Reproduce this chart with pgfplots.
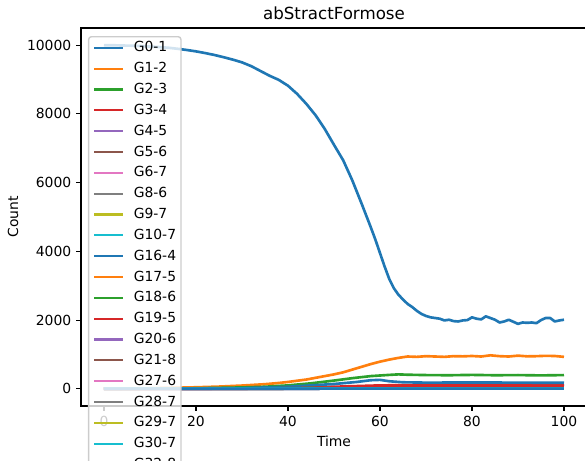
\documentclass[border=0pt]{standalone}
\usepackage{fontspec}
\setmainfont{DejaVu Sans}
\usepackage{pgfplots}
\pgfplotsset{compat=1.18}

% matplotlib tab10 cycle
\definecolor{c0}{HTML}{1F77B4}
\definecolor{c1}{HTML}{FF7F0E}
\definecolor{c2}{HTML}{2CA02C}
\definecolor{c3}{HTML}{D62728}
\definecolor{c4}{HTML}{9467BD}
\definecolor{c5}{HTML}{8C564B}
\definecolor{c6}{HTML}{E377C2}
\definecolor{c7}{HTML}{7F7F7F}
\definecolor{c8}{HTML}{BCBD22}
\definecolor{c9}{HTML}{17BECF}

\begin{document}
\begin{tikzpicture}[x=0.72pt,y=0.72pt]
\begin{axis}[
    at={(0,0)}, anchor=south west,
    scale only axis, width=364.32pt, height=272.16pt,
    xmin=-5, xmax=105, ymin=-500, ymax=10500,
    xtick={0,20,...,100}, ytick={0,2000,...,10000},
    xtick pos=left, ytick pos=left,
    tick align=outside, major tick length=3.5pt,
    every tick/.style={black, line width=0.8pt},
    axis line style={line width=0.8pt},
    scaled y ticks=false,
    /pgf/number format/1000 sep={},
    /pgf/number format/assume math mode=true,
    tick label style={font=\fontsize{10}{12}\selectfont},
    every axis title/.style={at={(0.5,1)}, anchor=base, yshift=6pt, inner sep=0pt,
        font=\fontsize{12}{14}\selectfont},
    every axis x label/.style={at={(0.5,0)}, anchor=base, yshift=-29.5pt, inner sep=0pt,
        font=\fontsize{10}{12}\selectfont},
    every axis y label/.style={at={(-0.1344,0.5)}, rotate=90, anchor=center, inner sep=0pt,
        font=\fontsize{10}{12}\selectfont},
    title={abStractFormose},
    xlabel={Time}, ylabel={Count},
    every axis plot/.append style={line width=1.9pt, line join=round},
    legend cell align=left,
    legend image code/.code={\draw[#1, line width=1.5pt, line cap=rect] (0pt,0pt) -- (20pt,0pt);},
    legend style={at={(0.0138,0.9788)}, anchor=north west,
        draw=black!20, line width=1pt, rounded corners=2pt,
        fill=white, fill opacity=0.8, text opacity=1,
        inner sep=3.5pt, row sep=6pt, column sep=7.5pt,
        font=\fontsize{10}{12}\selectfont,
        nodes={inner sep=0pt, minimum height=9pt}},
]
% G0-1
\addplot[c0] coordinates {
 (0,10000) (2,9998) (4,9990) (6,9985) (8,9975) (10,9960) (12,9945) (14,9925)
 (16,9895) (18,9860) (20,9820) (22,9770) (24,9715) (26,9650) (28,9580) (30,9500)
 (32,9390) (34,9250) (36,9110) (38,8990) (40,8820) (42,8580) (44,8290)
 (46,7960) (48,7560) (50,7100) (52,6650) (54,6060) (56,5390) (58,4700) (59,4340)
 (60,3950) (61,3560) (62,3200) (63,2930) (64,2740) (65,2600) (66,2470) (67,2380)
 (68,2270) (69,2180) (70,2120) (71,2080) (72,2060) (73,2040) (74,1990) (75,2010)
 (76,1970) (77,1960) (78,1990) (79,2000) (80,2080) (81,2040) (82,2020) (83,2110)
 (84,2060) (85,2010) (86,1930) (87,1960) (88,2010) (89,1950) (90,1890) (91,1930)
 (92,1920) (93,1930) (94,1910) (95,2000) (96,2060) (97,2060) (98,1960) (99,1990) (100,2010)};
\addlegendentry{G0-1}
% G1-2
\addplot[c1] coordinates {
 (0,0) (5,5) (10,15) (15,30) (20,45) (25,65) (30,95) (35,135) (38,170) (40,200)
 (42,235) (44,270) (46,320) (48,370) (50,420) (52,480) (54,560) (56,640) (58,720)
 (60,790) (62,850) (64,900) (66,940) (68,930) (70,950) (72,940) (74,930) (76,950)
 (78,945) (80,955) (82,940) (84,975) (86,950) (88,940) (90,965) (92,945) (94,950)
 (96,960) (98,955) (100,930)};
\addlegendentry{G1-2}
% G2-3
\addplot[c2] coordinates {
 (0,0) (10,5) (20,15) (30,40) (35,60) (40,100) (45,160) (50,240) (54,310) (58,370)
 (62,405) (64,420) (66,410) (70,400) (75,395) (80,405) (85,395) (90,400) (95,390) (100,400)};
\addlegendentry{G2-3}
% G3-4
\addplot[c3] coordinates {
 (0,0) (30,10) (40,30) (50,60) (60,100) (70,110) (80,105) (90,110) (100,105)};
\addlegendentry{G3-4}
% G4-5
\addplot[c4] coordinates {(0,0) (30,5) (50,20) (60,30) (80,30) (100,30)};
\addlegendentry{G4-5}
% G5-6
\addplot[c5] coordinates {(0,0) (40,5) (60,20) (80,20) (100,20)};
\addlegendentry{G5-6}
% G6-7
\addplot[c6] coordinates {(0,0) (40,5) (60,15) (80,15) (100,15)};
\addlegendentry{G6-7}
% G8-6
\addplot[c7] coordinates {(0,0) (50,5) (70,10) (100,10)};
\addlegendentry{G8-6}
% G9-7
\addplot[c8] coordinates {(0,0) (50,5) (70,10) (100,10)};
\addlegendentry{G9-7}
% G10-7
\addplot[c9] coordinates {(0,0) (60,5) (100,5)};
\addlegendentry{G10-7}
% G16-4
\addplot[c0] coordinates {
 (0,0) (30,20) (40,60) (50,140) (55,200) (58,250) (60,260) (62,220) (65,190)
 (70,180) (80,185) (90,180) (100,175)};
\addlegendentry{G16-4}
% G17-5
\addplot[c1] coordinates {(0,0) (40,10) (60,40) (80,40) (100,40)};
\addlegendentry{G17-5}
% G18-6
\addplot[c2] coordinates {(0,0) (20,10) (40,20) (60,30) (80,30) (100,30)};
\addlegendentry{G18-6}
% G19-5
\addplot[c3] coordinates {(0,0) (40,15) (55,50) (65,70) (80,75) (100,70)};
\addlegendentry{G19-5}
% G20-6
\addplot[c4] coordinates {(0,0) (50,5) (70,10) (100,10)};
\addlegendentry{G20-6}
% G21-8
\addplot[c5] coordinates {(0,0) (60,5) (100,5)};
\addlegendentry{G21-8}
% G27-6
\addplot[c6] coordinates {(0,0) (60,5) (100,5)};
\addlegendentry{G27-6}
% G28-7
\addplot[c7] coordinates {(0,0) (100,0)};
\addlegendentry{G28-7}
% G29-7
\addplot[c8] coordinates {(0,0) (100,0)};
\addlegendentry{G29-7}
% G30-7
\addplot[c9] coordinates {(0,0) (100,0)};
\addlegendentry{G30-7}
% G32-8
\addplot[c0] coordinates {(0,0) (60,5) (100,5)};
\addlegendentry{G32-8}
\end{axis}
\pgfresetboundingbox
\path[use as bounding box] (-81,-55) rectangle (504,406);
\end{tikzpicture}
\end{document}
